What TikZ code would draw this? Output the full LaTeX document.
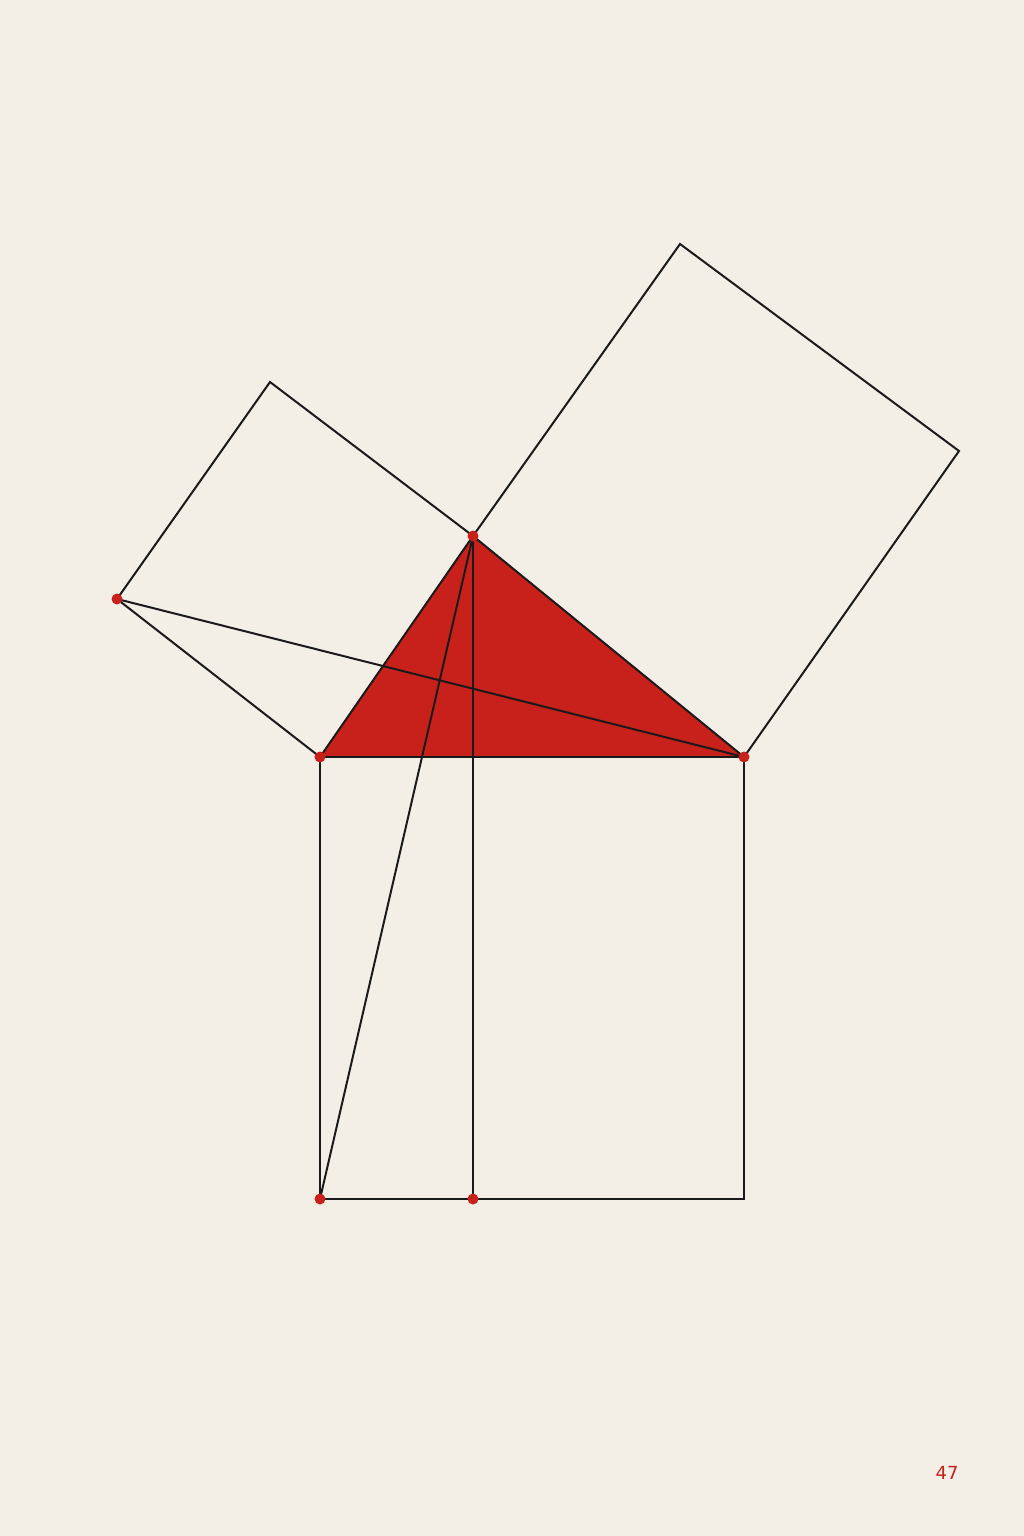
\documentclass[tikz,border=0pt]{standalone}
\usepackage{fontspec}
\setmainfont{DejaVu Sans}
\definecolor{bg}{HTML}{F3EFE7}
\definecolor{byred}{HTML}{C8201A}
\definecolor{ink}{HTML}{1A1A1A}
\begin{document}
\begin{tikzpicture}[x=1pt,y=-1pt,
  edge/.style={draw=ink,line width=2pt,line join=miter},
  pt/.style={circle,fill=byred,inner sep=0pt,minimum size=11pt}]
\fill[bg] (0,0) rectangle (1024,1536);
\useasboundingbox (0,0) rectangle (1024,1536);
\coordinate (A) at (473,536);
\coordinate (B) at (320,757);
\coordinate (C) at (744,757);
\coordinate (F) at (117,599);
\coordinate (G) at (270,382);
\coordinate (H) at (680,244);
\coordinate (K) at (959,451);
\coordinate (L) at (320,1199);
\coordinate (M) at (473,1199);
\coordinate (E) at (744,1199);
\fill[byred] (A) -- (B) -- (C) -- cycle;
\draw[edge] (B) -- (A) -- (G) -- (F) -- cycle;
\draw[edge] (A) -- (H) -- (K) -- (C) -- cycle;
\draw[edge] (B) -- (C) -- (E) -- (L) -- cycle;
\draw[edge] (A) -- (M);
\draw[edge] (A) -- (L);
\draw[edge] (F) -- (C);
\node[pt] (pA) at (A) {};
\node[pt] (pB) at (B) {};
\node[pt] (pC) at (C) {};
\node[pt] (pF) at (F) {};
\node[pt] (pL) at (L) {};
\node[pt] (pM) at (M) {};
\node[text=byred,font=\fontsize{18}{21}\selectfont] (num) at (947,1473) {47};
\end{tikzpicture}
\end{document}
